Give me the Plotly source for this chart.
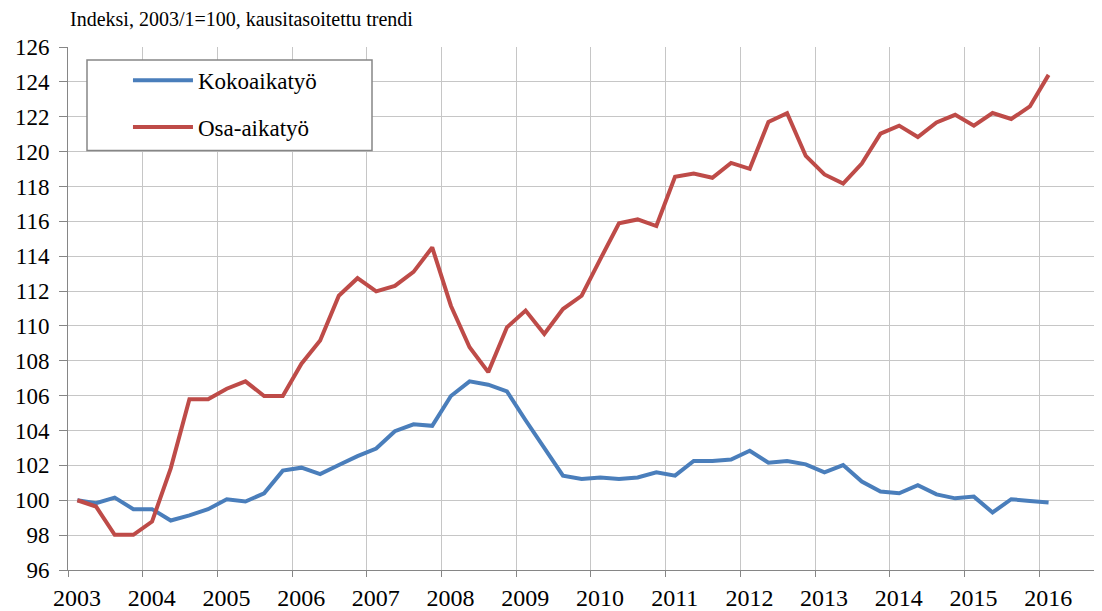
import plotly.graph_objects as go

start_year = 2003
n_quarters = 53
quarters = [f"{start_year + i // 4}/{i % 4 + 1}" for i in range(n_quarters)]

kokoaikatyo = [100.0, 99.83, 100.15, 99.49, 99.49, 98.84, 99.13, 99.49, 100.06, 99.93,
               100.4, 101.7, 101.87, 101.5, 102.02, 102.53, 102.97, 103.96, 104.36, 104.27,
               105.98, 106.82, 106.63, 106.25, 104.59, 103.01, 101.41, 101.22, 101.31, 101.22,
               101.31, 101.6, 101.41, 102.25, 102.25, 102.34, 102.84, 102.15, 102.25, 102.06,
               101.6, 102.02, 101.07, 100.5, 100.4, 100.87, 100.34, 100.11, 100.21, 99.3,
               100.06, 99.96, 99.87]

osa_aikatyo = [100.0, 99.64, 98.02, 98.02, 98.78, 101.83, 105.79, 105.79, 106.4, 106.82,
               105.98, 105.98, 107.83, 109.16, 111.73, 112.74, 111.98, 112.3, 113.1, 114.5,
               111.16, 108.78, 107.35, 109.92, 110.88, 109.54, 110.97, 111.73, 113.83, 115.89,
               116.11, 115.73, 118.55, 118.74, 118.5, 119.35, 119.01, 121.7, 122.2, 119.75,
               118.69, 118.17, 119.31, 121.03, 121.49, 120.84, 121.67, 122.11, 121.49, 122.21,
               121.87, 122.59, 124.4]

year_ticks = list(range(2003, 2017))
year_labels = [str(y) for y in year_ticks]
y_ticks = list(range(96, 127, 2))

series_names = ["Kokoaikatyö", "Osa-aikatyö"]
series_colors = ["#4A7EBB", "#BE4B48"]

title_text = "Indeksi, 2003/1=100, kausitasoitettu trendi"

# quarter position: middle of the quarter on a continuous year axis
def q_pos(label):
    y, q = label.split("/")
    return int(y) + (int(q) - 0.5) / 4

xq = [q_pos(q) for q in quarters]

FONT = "Liberation Serif"

fig = go.Figure()
for name, vals, col, grp in zip(series_names, [kokoaikatyo, osa_aikatyo], series_colors, ["a", "b"]):
    fig.add_trace(go.Scatter(
        x=xq, y=vals, mode="lines", name=name, legendgroup=grp,
        line=dict(color=col, width=4), customdata=quarters,
        hovertemplate="%{customdata}: %{y}<extra>" + name + "</extra>",
    ))

# the page adds an 8px body margin, so the figure is sized to fill the rest
PW, PH = 1034, 525
fig.update_layout(
    width=1094, height=603,
    margin=dict(l=60, r=0, t=39, b=39),
    paper_bgcolor="white", plot_bgcolor="white",
    font=dict(family=FONT, color="black", size=22),
    showlegend=True,
    legend=dict(
        x=0.058, y=0.9775, xanchor="left", yanchor="top",
        bgcolor="rgba(0,0,0,0)", borderwidth=0,
        font=dict(family=FONT, size=23, color="black"),
        tracegroupgap=14, itemwidth=60,
    ),
    xaxis=dict(
        range=[2003, 2016.84], tickmode="array", tickvals=year_ticks, ticktext=year_labels,
        showgrid=True, gridcolor="#C6C6C6", gridwidth=1,
        showline=True, linecolor="#868686", linewidth=1,
        ticks="outside", ticklen=6, tickcolor="#868686",
        tickfont=dict(family=FONT, size=24, color="black"),
        ticklabelshift=9, zeroline=False,
    ),
    yaxis=dict(
        range=[96, 126], tickmode="array", tickvals=y_ticks,
        showgrid=True, gridcolor="#C6C6C6", gridwidth=1,
        showline=True, linecolor="#868686", linewidth=1,
        ticks="outside", ticklen=8, tickcolor="#868686",
        tickfont=dict(family=FONT, size=23, color="black"),
        ticklabelstandoff=5, zeroline=False,
    ),
    shapes=[dict(
        type="rect", xref="paper", yref="paper",
        x0=(87 - 68) / PW, x1=(372 - 68) / PW,
        y0=(572 - 151) / PH, y1=(572 - 60) / PH,
        line=dict(color="#868686", width=1.5), fillcolor="white", layer="above",
    )],
    annotations=[dict(
        text=title_text, xref="paper", yref="paper", x=0, y=1,
        xanchor="left", yanchor="bottom", yshift=15, showarrow=False,
        font=dict(family=FONT, size=20, color="black"),
    )],
)

fig.write_html("out.html")
